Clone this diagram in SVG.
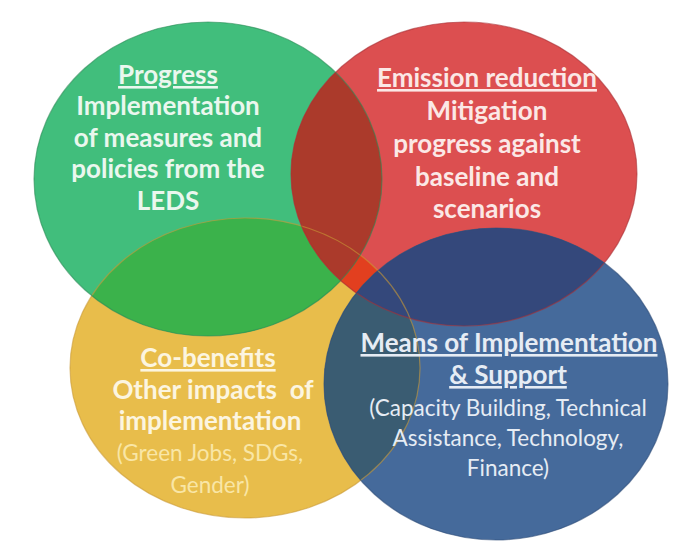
<svg xmlns="http://www.w3.org/2000/svg" width="684" height="543" viewBox="0 0 684 543">
<defs>
<clipPath id="cG"><ellipse cx="208" cy="179" rx="174" ry="157"/></clipPath>
<clipPath id="cR"><ellipse cx="464" cy="174" rx="173" ry="152"/></clipPath>
<clipPath id="cY"><ellipse cx="245" cy="368" rx="175" ry="150"/></clipPath>
<clipPath id="cB"><ellipse cx="496" cy="384" rx="172" ry="156"/></clipPath>
<style>
text{font-family:Lato,"Open Sans","Liberation Sans",sans-serif;text-anchor:middle}
.b{font-weight:bold;font-size:26px}
.r{font-weight:normal;font-size:22.5px}
.u{text-decoration:underline}
.tg{fill:#eaf7ee}
.tr{fill:#fbe8e6}
.ty{fill:#fcf5e0}
.ty2{fill:#f9e6a6}
.tb{fill:#e6ecf4}
.edge{fill:none;stroke-width:1.2}
</style>
</defs>
<rect width="684" height="543" fill="#ffffff"/>
<g id="yellow">
<ellipse cx="245" cy="368" rx="175" ry="150" fill="#e8bd4b"/>
</g>
<g id="green">
<ellipse cx="208" cy="179" rx="174" ry="157" fill="#41be7c"/>
<ellipse cx="245" cy="368" rx="175" ry="150" fill="#3bb24b" clip-path="url(#cG)"/>
</g>
<g id="red">
<ellipse cx="464" cy="174" rx="173" ry="152" fill="#dc4f50"/>
<g clip-path="url(#cR)">
<ellipse cx="245" cy="368" rx="175" ry="150" fill="#e23f1f"/>
<ellipse cx="208" cy="179" rx="174" ry="157" fill="#ab3a2b"/>
</g>
</g>
<g id="blue">
<ellipse cx="496" cy="384" rx="172" ry="156" fill="#456a9b"/>
<g clip-path="url(#cB)">
<ellipse cx="245" cy="368" rx="175" ry="150" fill="#3a5c72"/>
<ellipse cx="464" cy="174" rx="173" ry="152" fill="#34487b"/>
</g>
</g>
<g id="outlines">
<ellipse class="edge" cx="245" cy="368" rx="175" ry="150" stroke="#c99a36" stroke-opacity="0.6"/>
<ellipse class="edge" cx="208" cy="179" rx="174" ry="157" stroke="#2a8a55" stroke-opacity="0.6"/>
<ellipse class="edge" cx="464" cy="174" rx="173" ry="152" stroke="#a83035" stroke-opacity="0.6"/>
<ellipse class="edge" cx="496" cy="384" rx="172" ry="156" stroke="#2e4c78" stroke-opacity="0.6"/>
</g>
<g id="label-progress">
<text class="b tg u" x="168" y="84">Progress</text>
<text class="b tg" x="168" y="115">Implementation</text>
<text class="b tg" x="168" y="147">of measures and</text>
<text class="b tg" x="168" y="178">policies from the</text>
<text class="b tg" x="168" y="210">LEDS</text>
</g>
<g id="label-emission">
<text class="b tr u" x="487" y="87">Emission reduction</text>
<text class="b tr" x="487" y="120">Mitigation</text>
<text class="b tr" x="487" y="153">progress against</text>
<text class="b tr" x="487" y="186">baseline and</text>
<text class="b tr" x="487" y="218">scenarios</text>
</g>
<g id="label-cobenefits">
<text class="b ty u" x="208" y="367">Co-benefits</text>
<text class="b ty" x="213" y="399" xml:space="preserve">Other impacts  of</text>
<text class="b ty" x="210" y="430">implementation</text>
<text class="r ty2" x="210" y="461">(Green Jobs, SDGs,</text>
<text class="r ty2" x="210" y="493">Gender)</text>
</g>
<g id="label-means">
<text class="b tb u" x="509" y="352">Means of Implementation</text>
<text class="b tb u" x="508" y="384">&amp; Support</text>
<text class="r tb" x="508" y="416">(Capacity Building, Technical</text>
<text class="r tb" x="508" y="446">Assistance, Technology,</text>
<text class="r tb" x="508" y="476">Finance)</text>
</g>
</svg>
